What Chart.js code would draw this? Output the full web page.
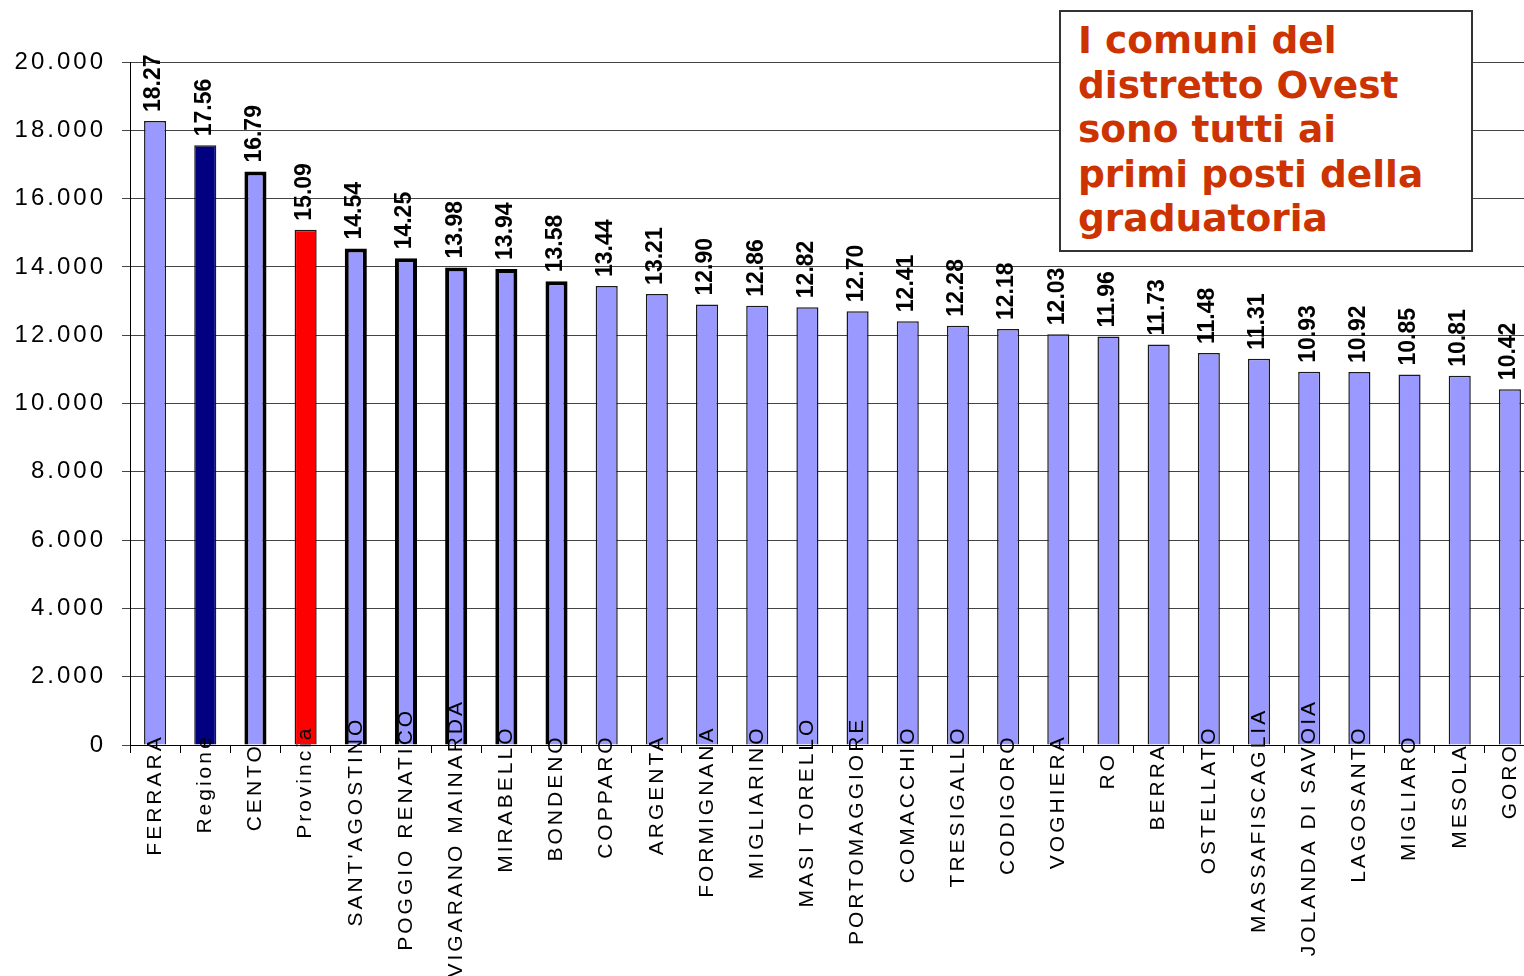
<!DOCTYPE html>
<html>
<head>
<meta charset="utf-8">
<script src="https://cdn.jsdelivr.net/npm/chart.js@4"></script>
<style>
  html, body { margin: 0; padding: 0; background: #fff; overflow: hidden; }
  #wrap { position: relative; width: 1524px; height: 976px; overflow: hidden; }
  #chart { display: block; }
  #note {
    position: absolute; left: 1059px; top: 10px; width: 376px; height: 224px;
    border: 2px solid #333; background: #fff;
    padding: 6px 17px 8px 17px; white-space: nowrap;
    font-family: "DejaVu Sans", Verdana, sans-serif; font-weight: bold;
    font-size: 37.5px; line-height: 44.5px; color: #cc3300;
  }
</style>
</head>
<body>
<div id="wrap">
  <canvas id="chart" width="1541" height="976"></canvas>
  <div id="note">I comuni del<br>distretto Ovest<br>sono tutti ai<br>primi posti della<br>graduatoria</div>
</div>
<script>
const comuni = ["FERRARA", "Regione", "CENTO", "Provincia", "SANT'AGOSTINO", "POGGIO RENATICO",
  "VIGARANO MAINARDA", "MIRABELLO", "BONDENO", "COPPARO", "ARGENTA", "FORMIGNANA", "MIGLIARINO",
  "MASI TORELLO", "PORTOMAGGIORE", "COMACCHIO", "TRESIGALLO", "CODIGORO", "VOGHIERA", "RO",
  "BERRA", "OSTELLATO", "MASSAFISCAGLIA", "JOLANDA DI SAVOIA", "LAGOSANTO", "MIGLIARO", "MESOLA", "GORO"]

const valori = [18270, 17560, 16790, 15090, 14540, 14250, 13980, 13940, 13580, 13440, 13210, 12900,
  12860, 12820, 12700, 12410, 12280, 12180, 12030, 11960, 11730, 11480, 11310, 10930, 10920, 10850,
  10810, 10420]

// comuni del distretto Ovest (bordo spesso)
const distrettoOvest = ["CENTO", "SANT'AGOSTINO", "POGGIO RENATICO", "VIGARANO MAINARDA", "MIRABELLO", "BONDENO"]

const yTicks = [0, 2000, 4000, 6000, 8000, 10000, 12000, 14000, 16000, 18000, 20000]

const fillColor = comuni.map(c => c === "Regione" ? "#000080" : c === "Provincia" ? "#ff0000" : "#9999ff")
const borderW = comuni.map(c => distrettoOvest.includes(c) ? 4 : 1.5)

const fmtY = v => v === 0 ? "0" : (v / 1000) + ".000"

// le etichette corte nell'originale partono più in basso: spazi in coda
const fmtX = (v, i) => {
  const n = comuni[i].length
  const k = Math.max(0, Math.round((62 - 3.7 * n) / 8.84))
  return comuni[i] + " ".repeat(k)
}

const spacingPlugin = {
  id: "spacing",
  beforeDraw(chart) { chart.ctx.letterSpacing = "3px" },
  afterDraw(chart) { chart.ctx.letterSpacing = "0px" }
}

const valueLabels = {
  id: "valueLabels",
  afterDatasetsDraw(chart) {
    const ctx = chart.ctx
    const meta = chart.getDatasetMeta(0)
    ctx.save()
    ctx.letterSpacing = "0px"
    ctx.font = "bold 23px 'Liberation Sans', Arial, sans-serif"
    ctx.fillStyle = "#000"
    ctx.textAlign = "left"
    ctx.textBaseline = "middle"
    meta.data.forEach((bar, i) => {
      ctx.save()
      ctx.translate(bar.x - 1, bar.y - 9)
      ctx.rotate(-Math.PI / 2)
      ctx.fillText((valori[i] / 1000).toFixed(2), 0, 0)
      ctx.restore()
    })
    ctx.restore()
  }
}

new Chart(document.getElementById("chart"), {
  type: "bar",
  data: {
    labels: comuni,
    datasets: [{
      data: valori,
      backgroundColor: fillColor,
      borderColor: comuni.map(c => distrettoOvest.includes(c) ? "#000" : "#1a1a1a"),
      borderWidth: borderW,
      barPercentage: 0.44,
      categoryPercentage: 1
    }]
  },
  options: {
    responsive: false,
    animation: false,
    devicePixelRatio: 1,
    layout: { padding: { top: 62, right: 6, left: 0, bottom: 0 } },
    plugins: { legend: { display: false }, tooltip: { enabled: false } },
    scales: {
      x: {
        grid: { display: true, drawOnChartArea: false, offset: true, tickLength: 8, color: "#000" },
        border: { color: "#000", width: 1 },
        ticks: {
          autoSkip: false, minRotation: 90, maxRotation: 90, padding: -54, z: 1,
          color: "#000", callback: fmtX,
          font: { family: "'Liberation Sans', Arial, sans-serif", size: 21 }
        },
        afterFit(scale) {
          scale.height = 231
          // le etichette sporgono sopra l'asse come nell'originale
          scale._computeLabelArea = () => undefined
        }
      },
      y: {
        min: 0, max: 20000,
        afterBuildTicks(scale) { scale.ticks = yTicks.map(v => ({ value: v })) },
        grid: { color: "#444", lineWidth: 1, tickLength: 8 },
        border: { color: "#000", width: 1 },
        ticks: {
          padding: 16, color: "#000", callback: fmtY,
          font: { family: "'Liberation Sans', Arial, sans-serif", size: 24 }
        },
        afterFit(scale) { scale.width = 130 }
      }
    }
  },
  plugins: [spacingPlugin, valueLabels]
})
</script>
</body>
</html>
